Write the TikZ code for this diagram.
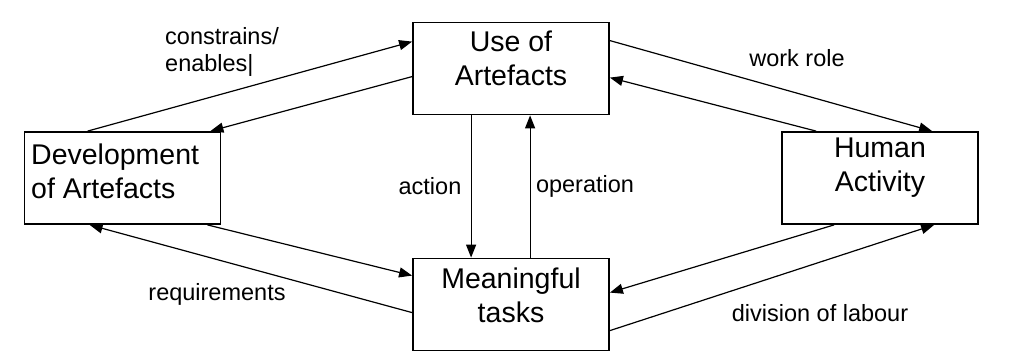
\documentclass[tikz,border=0pt]{standalone}
\usepackage{fontspec}
\setmainfont{Liberation Sans}
\usetikzlibrary{arrows.meta}
\begin{document}
\begin{tikzpicture}[x=1pt,y=-1pt,
  box/.style={draw,line width=1.8pt,minimum width=196pt,minimum height=92pt,inner sep=0pt},
  boxtext/.style={font=\fontsize{28.5}{34}\selectfont,align=center,inner sep=0pt},
  lbl/.style={font=\fontsize{23.5}{27}\selectfont,inner sep=0pt},
  link/.style={line width=1.2pt,-{Triangle[length=13pt,width=10pt]}},
  plain/.style={line width=1.2pt}]
\useasboundingbox (0,0) rectangle (1020,363);
% boxes
\node[box] (dev) at (122.5,178) {};
\node[box] (use) at (511,68.5) {};
\node[box] (mt)  at (511,304.5) {};
\node[box] (hum) at (880,178) {};
% box captions
\node[boxtext,align=left,anchor=west] (devt) at (31,171) {Development\\of Artefacts};
\node[boxtext] (uset) at (511,58) {Use of\\Artefacts};
\node[boxtext] (mtt) at (511,295) {Meaningful\\tasks};
\node[boxtext] (humt) at (880,168) {Human\\Activity};
% left side
\draw[link] ([xshift=64pt]dev.north west) -- ([yshift=-20pt]use.north west);
\draw[link] ([yshift=-55pt]use.north west) -- ([xshift=-11pt]dev.north east);
\draw[link] ([xshift=-14pt]dev.south east) -- ([yshift=-18pt]mt.north west);
\draw[link] ([yshift=-55pt]mt.north west) -- ([xshift=66pt]dev.south west);
% right side
\draw[link] ([yshift=-19pt]use.north east) -- ([xshift=151pt]hum.north west);
\draw[link] ([xshift=35pt]hum.north west) -- ([yshift=-56pt]use.north east);
\draw[link] ([xshift=53pt]hum.south west) -- ([yshift=-35pt]mt.north east);
\draw[link] ([yshift=-73pt]mt.north east) -- ([xshift=153pt]hum.south west);
% middle
\draw[link] ([xshift=59pt]use.south west) -- ([xshift=59pt]mt.north west);
\draw[link] ([xshift=118pt]mt.north west) -- ([xshift=118pt]use.south west);
% labels
\node[lbl,align=left,anchor=west] (ce) at (165,52) {constrains/\\enables|};
\node[lbl] (req) at (217,294) {requirements};
\node[lbl] (act) at (430,186) {action};
\node[lbl] (op) at (585,186) {operation};
\node[lbl] (wr) at (797,58) {work role};
\node[lbl] (div) at (820,313) {division of labour};
\end{tikzpicture}
\end{document}
